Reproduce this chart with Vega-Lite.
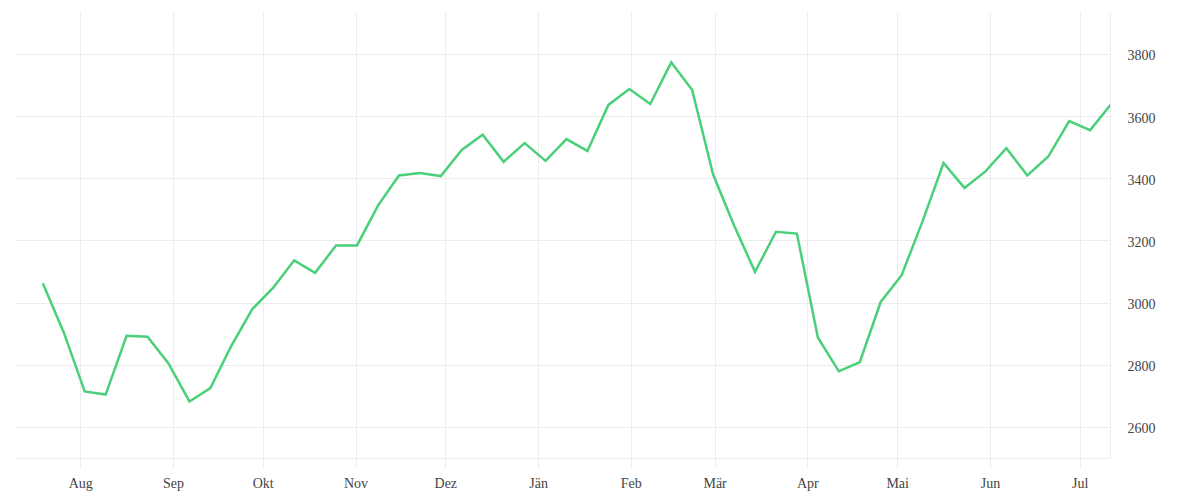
{
  "$schema": "https://vega.github.io/schema/vega-lite/v6.json",
  "width": 1095,
  "height": 446,
  "autosize": "none",
  "padding": {"left": 15, "top": 12, "right": 90, "bottom": 42},
  "background": "#ffffff",
  "data": {
    "values": [
      {"date": "2022-07-19T12:00:00Z", "value": 3062},
      {"date": "2022-07-26T12:00:00Z", "value": 2904},
      {"date": "2022-08-02T12:00:00Z", "value": 2714},
      {"date": "2022-08-09T12:00:00Z", "value": 2704},
      {"date": "2022-08-16T12:00:00Z", "value": 2893},
      {"date": "2022-08-23T12:00:00Z", "value": 2890},
      {"date": "2022-08-30T12:00:00Z", "value": 2804},
      {"date": "2022-09-06T12:00:00Z", "value": 2682},
      {"date": "2022-09-13T12:00:00Z", "value": 2725},
      {"date": "2022-09-20T12:00:00Z", "value": 2861},
      {"date": "2022-09-27T12:00:00Z", "value": 2979},
      {"date": "2022-10-04T12:00:00Z", "value": 3048},
      {"date": "2022-10-11T12:00:00Z", "value": 3136},
      {"date": "2022-10-18T12:00:00Z", "value": 3096},
      {"date": "2022-10-25T12:00:00Z", "value": 3184},
      {"date": "2022-11-01T12:00:00Z", "value": 3184},
      {"date": "2022-11-08T12:00:00Z", "value": 3312},
      {"date": "2022-11-15T12:00:00Z", "value": 3409},
      {"date": "2022-11-22T12:00:00Z", "value": 3417},
      {"date": "2022-11-29T12:00:00Z", "value": 3407},
      {"date": "2022-12-06T12:00:00Z", "value": 3491},
      {"date": "2022-12-13T12:00:00Z", "value": 3540},
      {"date": "2022-12-20T12:00:00Z", "value": 3453},
      {"date": "2022-12-27T12:00:00Z", "value": 3513},
      {"date": "2023-01-03T12:00:00Z", "value": 3456},
      {"date": "2023-01-10T12:00:00Z", "value": 3526},
      {"date": "2023-01-17T12:00:00Z", "value": 3488},
      {"date": "2023-01-24T12:00:00Z", "value": 3636},
      {"date": "2023-01-31T12:00:00Z", "value": 3687},
      {"date": "2023-02-07T12:00:00Z", "value": 3639},
      {"date": "2023-02-14T12:00:00Z", "value": 3773},
      {"date": "2023-02-21T12:00:00Z", "value": 3684},
      {"date": "2023-02-28T12:00:00Z", "value": 3412},
      {"date": "2023-03-07T12:00:00Z", "value": 3248},
      {"date": "2023-03-14T12:00:00Z", "value": 3099},
      {"date": "2023-03-21T12:00:00Z", "value": 3228},
      {"date": "2023-03-28T12:00:00Z", "value": 3222},
      {"date": "2023-04-04T12:00:00Z", "value": 2888},
      {"date": "2023-04-11T12:00:00Z", "value": 2779},
      {"date": "2023-04-18T12:00:00Z", "value": 2808},
      {"date": "2023-04-25T12:00:00Z", "value": 3002},
      {"date": "2023-05-02T12:00:00Z", "value": 3088},
      {"date": "2023-05-09T12:00:00Z", "value": 3262},
      {"date": "2023-05-16T12:00:00Z", "value": 3449},
      {"date": "2023-05-23T12:00:00Z", "value": 3369},
      {"date": "2023-05-30T12:00:00Z", "value": 3422},
      {"date": "2023-06-06T12:00:00Z", "value": 3497},
      {"date": "2023-06-13T12:00:00Z", "value": 3409},
      {"date": "2023-06-20T12:00:00Z", "value": 3470},
      {"date": "2023-06-27T12:00:00Z", "value": 3584},
      {"date": "2023-07-04T12:00:00Z", "value": 3555},
      {"date": "2023-07-11T12:00:00Z", "value": 3639}
    ]
  },
  "mark": {"type": "line", "color": "#4ad07a", "strokeWidth": 2.5, "clip": true},
  "encoding": {
    "x": {
      "field": "date",
      "type": "temporal",
      "scale": {"type": "utc", "domain": ["2022-07-10T05:00:00Z", "2023-07-11T03:00:00Z"]},
      "axis": {
        "title": null,
        "tickCount": {"interval": "month", "step": 1},
        "labelExpr": "['Jän','Feb','Mär','Apr','Mai','Jun','Jul','Aug','Sep','Okt','Nov','Dez'][utcmonth(datum.value)]",
        "grid": true,
        "gridColor": "#ececec",
        "ticks": true,
        "tickColor": "#ececec",
        "tickSize": 10,
        "domain": true,
        "domainColor": "#ececec",
        "labelPadding": 8
      }
    },
    "y": {
      "field": "value",
      "type": "quantitative",
      "scale": {"domain": [2500, 3935], "nice": false, "zero": false},
      "axis": {
        "title": null,
        "orient": "right",
        "values": [2500, 2600, 2800, 3000, 3200, 3400, 3600, 3800],
        "format": "d",
        "labelExpr": "datum.value == 2500 ? '' : datum.label",
        "grid": true,
        "gridColor": "#ececec",
        "ticks": false,
        "domain": true,
        "domainColor": "#ececec",
        "labelPadding": 17,
        "labelOffset": 2,
        "labelAlign": "left"
      }
    }
  },
  "config": {
    "view": {"stroke": null},
    "axis": {
      "labelFont": "Liberation Serif",
      "labelFontSize": 14,
      "labelColor": "#444444"
    }
  }
}
